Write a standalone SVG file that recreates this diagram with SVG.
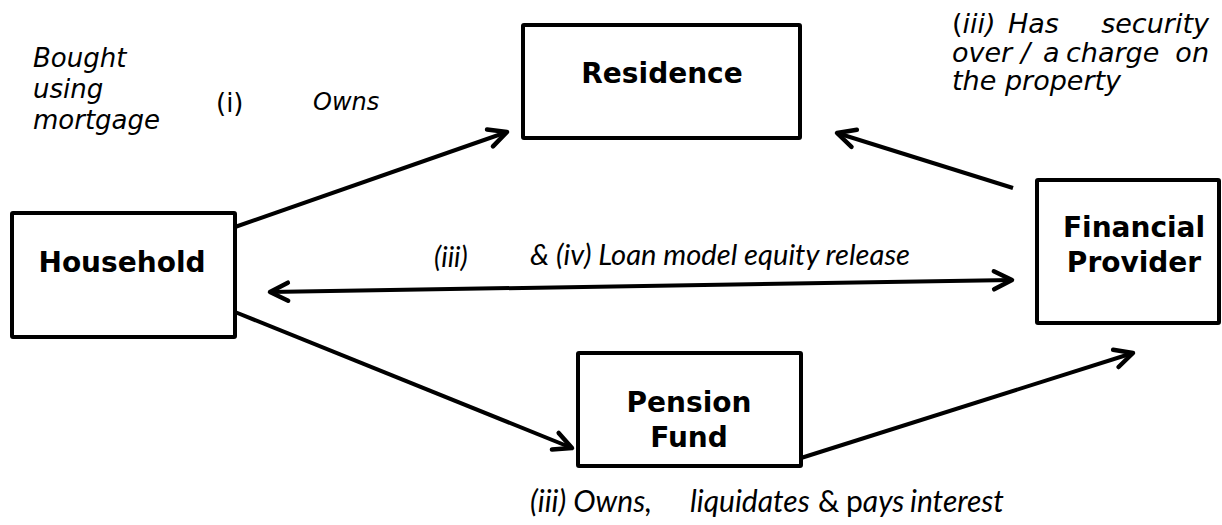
<svg xmlns="http://www.w3.org/2000/svg" width="1222" height="525" viewBox="0 0 1222 525">
<style>
.box{fill:#fff;stroke:#000;stroke-width:4;stroke-linejoin:round}
.nt{font-family:"DejaVu Sans","Verdana",sans-serif;font-weight:bold;font-size:28px;fill:#000;text-anchor:middle}
.vl{font-family:"DejaVu Sans","Verdana",sans-serif;font-size:26px;fill:#000}
.vr{font-family:"DejaVu Sans","Verdana",sans-serif;font-size:27px;fill:#000}
.it{font-style:italic}
.up{font-style:normal}
.cl{font-family:Lato,"Open Sans",sans-serif;font-style:italic;font-size:28px;fill:#000}
.cb{font-family:Lato,"Open Sans",sans-serif;font-style:italic;font-size:30px;fill:#000}
.conn{fill:none;stroke:#000;stroke-width:4;stroke-linecap:butt}
</style>
<defs>
<marker id="ah" markerUnits="userSpaceOnUse" viewBox="-22 -12 26 24" markerWidth="26" markerHeight="24" refX="0" refY="0" orient="auto-start-reverse" overflow="visible">
<path d="M-18,-9 L0,0 L-18,9" fill="none" stroke="#000" stroke-width="4.5" stroke-linecap="round" stroke-linejoin="round"/>
</marker>
</defs>
<g id="connectors">
<path class="conn" d="M235,227 L507,132" marker-end="url(#ah)"/>
<path class="conn" d="M1013,188 L837,133" marker-end="url(#ah)"/>
<path class="conn" d="M270,292 L1012,280" marker-start="url(#ah)" marker-end="url(#ah)"/>
<path class="conn" d="M235,312 L572,448" marker-end="url(#ah)"/>
<path class="conn" d="M801,458 L1133,353" marker-end="url(#ah)"/>
</g>
<g id="household">
<rect class="box" x="12" y="213" width="223" height="124" rx="1"/>
<text class="nt" x="122" y="272">Household</text>
</g>
<g id="residence">
<rect class="box" x="523" y="25" width="277" height="113" rx="1"/>
<text class="nt" x="662" y="83">Residence</text>
</g>
<g id="financial-provider">
<rect class="box" x="1037" y="180" width="182" height="143" rx="1"/>
<text class="nt" x="1134" y="237">Financial</text>
<text class="nt" x="1134" y="272">Provider</text>
</g>
<g id="pension-fund">
<rect class="box" x="578" y="353" width="223" height="113" rx="1"/>
<text class="nt" x="689" y="412">Pension</text>
<text class="nt" x="689" y="447">Fund</text>
</g>
<g id="labels">
<text class="vl it" x="33" y="67">Bought</text>
<text class="vl it" x="33" y="98">using</text>
<text class="vl it" x="33" y="129">mortgage</text>
<text class="vl" x="216" y="112">(i)</text>
<text class="vl it" x="313" y="110" style="font-size:24px">Owns</text>
<text class="vr" y="33"><tspan x="952" class="up">(</tspan><tspan class="it">iii)</tspan><tspan x="1008" class="it">Has</tspan></text>
<text class="vr it" x="1209" y="33" text-anchor="end">security</text>
<text class="vr it" y="62"><tspan x="952">over</tspan><tspan x="1021">/</tspan><tspan x="1043">a</tspan><tspan x="1066">charge</tspan></text>
<text class="vr it" x="1209" y="62" text-anchor="end">on</text>
<text class="vr it" x="952" y="90">the property</text>
<text class="cl" x="434" y="267">(iii)</text>
<text class="cl" x="530" y="265" textLength="380" lengthAdjust="spacingAndGlyphs">&amp; (iv) Loan model equity release</text>
<text class="cb" y="512"><tspan x="530">(iii) Owns,</tspan><tspan x="690">liquidates</tspan><tspan x="818" style="font-style:normal">&amp;</tspan><tspan x="846"><tspan style="font-style:normal">p</tspan>ays</tspan><tspan x="910">interest</tspan></text>
</g>
</svg>
